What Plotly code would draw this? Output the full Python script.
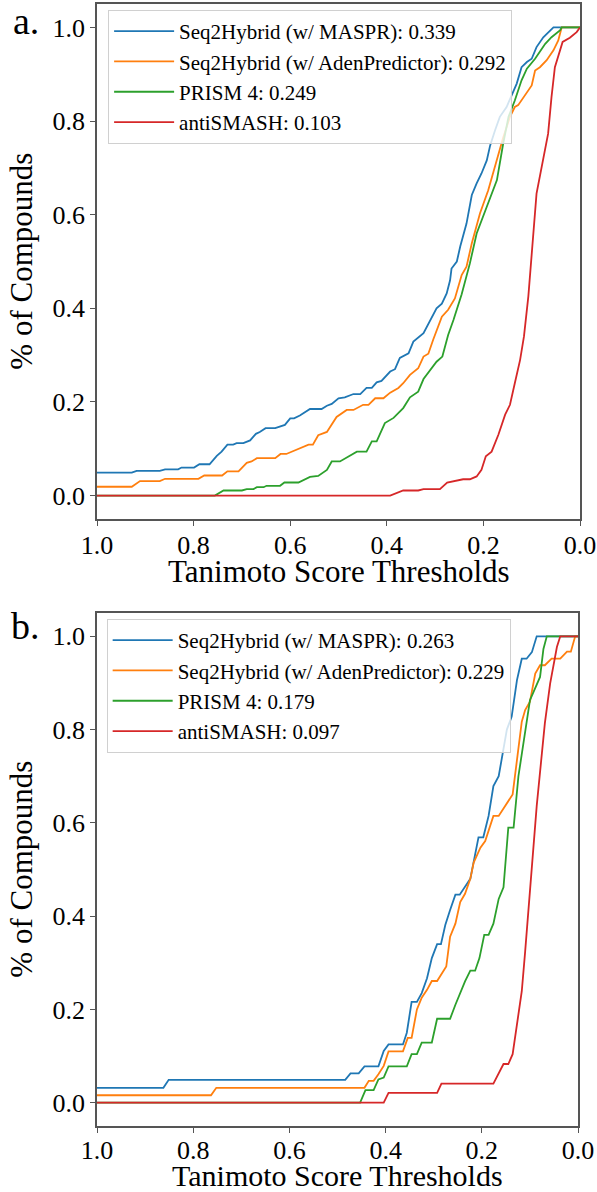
import plotly.graph_objects as go

# ---------------- Panel a data ----------------
a_blue_x = [1.0, 0.928, 0.918, 0.87, 0.859, 0.832, 0.825, 0.799, 0.788, 0.767,
            0.752, 0.742, 0.730, 0.718, 0.711, 0.697, 0.683, 0.671, 0.663, 0.651,
            0.631, 0.611, 0.600, 0.592, 0.580, 0.559, 0.535, 0.524, 0.514, 0.500,
            0.487, 0.469, 0.455, 0.442, 0.431, 0.421, 0.411, 0.393, 0.383, 0.373,
            0.355, 0.345, 0.324, 0.311, 0.297, 0.286, 0.276, 0.269, 0.266, 0.255,
            0.248, 0.235, 0.224, 0.214, 0.204, 0.193, 0.186, 0.176, 0.166, 0.152,
            0.141, 0.131, 0.121, 0.110, 0.100, 0.090, 0.076, 0.066, 0.055, 0.0]
a_blue_y = [0.049, 0.049, 0.053, 0.053, 0.056, 0.056, 0.060, 0.060, 0.067, 0.067,
            0.085, 0.094, 0.109, 0.109, 0.112, 0.112, 0.118, 0.132, 0.136, 0.144,
            0.144, 0.151, 0.165, 0.165, 0.171, 0.185, 0.185, 0.192, 0.196, 0.208,
            0.210, 0.217, 0.217, 0.230, 0.230, 0.242, 0.245, 0.265, 0.270, 0.294,
            0.304, 0.329, 0.347, 0.372, 0.400, 0.410, 0.432, 0.460, 0.485, 0.500,
            0.532, 0.581, 0.642, 0.667, 0.688, 0.716, 0.748, 0.780, 0.809, 0.830,
            0.855, 0.880, 0.915, 0.926, 0.933, 0.958, 0.979, 0.990, 1.0, 1.0]

a_orange_x = [1.0, 0.928, 0.911, 0.87, 0.859, 0.79, 0.778, 0.741, 0.730, 0.707,
              0.69, 0.68, 0.669, 0.631, 0.62, 0.608, 0.562, 0.553, 0.542, 0.524,
              0.504, 0.483, 0.469, 0.449, 0.438, 0.424, 0.407, 0.393, 0.376, 0.366,
              0.352, 0.335, 0.324, 0.314, 0.304, 0.293, 0.286, 0.273, 0.259, 0.245,
              0.235, 0.224, 0.207, 0.19, 0.172, 0.159, 0.145, 0.135, 0.128, 0.117,
              0.1, 0.093, 0.083, 0.069, 0.055, 0.045, 0.038, 0.0]
a_orange_y = [0.019, 0.019, 0.031, 0.031, 0.036, 0.036, 0.043, 0.043, 0.052, 0.052,
              0.070, 0.073, 0.080, 0.080, 0.089, 0.089, 0.109, 0.109, 0.129, 0.136,
              0.168, 0.183, 0.183, 0.194, 0.194, 0.208, 0.208, 0.220, 0.230, 0.240,
              0.258, 0.272, 0.297, 0.303, 0.333, 0.361, 0.382, 0.397, 0.421, 0.471,
              0.489, 0.539, 0.603, 0.652, 0.716, 0.765, 0.809, 0.830, 0.834, 0.851,
              0.876, 0.908, 0.915, 0.930, 0.951, 0.972, 1.0, 1.0]

a_green_x = [1.0, 0.756, 0.738, 0.700, 0.690, 0.676, 0.669, 0.655, 0.649, 0.621,
             0.612, 0.583, 0.559, 0.542, 0.524, 0.514, 0.497, 0.48, 0.462, 0.442,
             0.431, 0.421, 0.404, 0.386, 0.366, 0.352, 0.335, 0.324, 0.314, 0.297,
             0.285, 0.273, 0.262, 0.252, 0.245, 0.228, 0.214, 0.193, 0.172, 0.159,
             0.148, 0.135, 0.121, 0.11, 0.093, 0.072, 0.059, 0.041, 0.038, 0.0]
a_green_y = [0.0, 0.0, 0.011, 0.011, 0.014, 0.014, 0.018, 0.018, 0.021, 0.021,
             0.028, 0.028, 0.040, 0.042, 0.055, 0.073, 0.073, 0.084, 0.094, 0.094,
             0.116, 0.116, 0.155, 0.166, 0.187, 0.210, 0.222, 0.249, 0.262, 0.286,
             0.297, 0.343, 0.375, 0.407, 0.430, 0.496, 0.560, 0.617, 0.674, 0.752,
             0.809, 0.844, 0.887, 0.912, 0.933, 0.965, 0.979, 0.994, 1.0, 1.0]

a_red_x = [1.0, 0.393, 0.366, 0.335, 0.324, 0.29, 0.275, 0.259, 0.242, 0.228,
           0.214, 0.204, 0.195, 0.183, 0.169, 0.155, 0.145, 0.135, 0.124, 0.116,
           0.107, 0.09, 0.076, 0.066, 0.059, 0.055, 0.052, 0.036, 0.021, 0.007, 0.0]
a_red_y = [0.0, 0.0, 0.011, 0.011, 0.014, 0.014, 0.028, 0.031, 0.035, 0.035,
           0.041, 0.055, 0.084, 0.094, 0.130, 0.173, 0.194, 0.240, 0.290, 0.340,
           0.425, 0.645, 0.723, 0.773, 0.851, 0.890, 0.915, 0.969, 0.978, 0.990, 1.0]

# ---------------- Panel b data ----------------
b_blue_x = [1.0, 0.862, 0.851, 0.484, 0.473, 0.456, 0.444, 0.415, 0.404, 0.394,
            0.364, 0.356, 0.346, 0.335, 0.325, 0.314, 0.304, 0.293, 0.285, 0.276,
            0.266, 0.255, 0.246, 0.235, 0.224, 0.207, 0.197, 0.186, 0.176, 0.165,
            0.155, 0.148, 0.138, 0.127, 0.117, 0.107, 0.096, 0.086, 0.0]
b_blue_y = [0.032, 0.032, 0.049, 0.049, 0.063, 0.063, 0.078, 0.078, 0.111, 0.125,
            0.125, 0.150, 0.216, 0.216, 0.235, 0.267, 0.310, 0.340, 0.340, 0.381,
            0.413, 0.446, 0.446, 0.462, 0.480, 0.569, 0.569, 0.615, 0.679, 0.700,
            0.764, 0.800, 0.828, 0.906, 0.952, 0.952, 0.966, 1.0, 1.0]

b_orange_x = [1.0, 0.763, 0.752, 0.444, 0.435, 0.425, 0.415, 0.404, 0.394, 0.364,
              0.354, 0.346, 0.335, 0.325, 0.314, 0.304, 0.293, 0.274, 0.266, 0.255,
              0.245, 0.235, 0.224, 0.217, 0.203, 0.193, 0.176, 0.165, 0.136, 0.127,
              0.117, 0.11, 0.1, 0.089, 0.079, 0.069, 0.055, 0.037, 0.023, 0.015,
              0.006, 0.0]
b_orange_y = [0.016, 0.016, 0.032, 0.032, 0.047, 0.047, 0.061, 0.079, 0.110, 0.110,
              0.139, 0.139, 0.200, 0.225, 0.242, 0.261, 0.261, 0.292, 0.356, 0.384,
              0.430, 0.448, 0.480, 0.515, 0.547, 0.561, 0.615, 0.615, 0.661, 0.735,
              0.817, 0.842, 0.860, 0.920, 0.938, 0.938, 0.952, 0.952, 0.967, 0.967,
              1.0, 1.0]

b_green_x = [1.0, 0.453, 0.442, 0.425, 0.415, 0.404, 0.394, 0.356, 0.346, 0.335,
             0.325, 0.304, 0.293, 0.266, 0.255, 0.245, 0.235, 0.224, 0.214, 0.205,
             0.195, 0.186, 0.176, 0.165, 0.155, 0.145, 0.134, 0.124, 0.11, 0.1,
             0.079, 0.072, 0.065, 0.0]
b_green_y = [0.0, 0.0, 0.027, 0.027, 0.050, 0.054, 0.078, 0.078, 0.104, 0.104,
             0.129, 0.129, 0.180, 0.180, 0.210, 0.235, 0.260, 0.283, 0.283, 0.310,
             0.360, 0.360, 0.384, 0.437, 0.462, 0.590, 0.590, 0.700, 0.800, 0.863,
             0.913, 0.973, 1.0, 1.0]

b_red_x = [1.0, 0.404, 0.394, 0.293, 0.284, 0.176, 0.155, 0.145, 0.136, 0.127,
           0.117, 0.11, 0.101, 0.086, 0.069, 0.058, 0.044, 0.037, 0.0]
b_red_y = [0.0, 0.0, 0.021, 0.021, 0.041, 0.041, 0.083, 0.083, 0.104, 0.168,
           0.239, 0.324, 0.440, 0.636, 0.814, 0.899, 0.977, 1.0, 1.0]

names_a = ["Seq2Hybrid (w/ MASPR): 0.339", "Seq2Hybrid (w/ AdenPredictor): 0.292",
           "PRISM 4: 0.249", "antiSMASH: 0.103"]
names_b = ["Seq2Hybrid (w/ MASPR): 0.263", "Seq2Hybrid (w/ AdenPredictor): 0.229",
           "PRISM 4: 0.179", "antiSMASH: 0.097"]
colors = ["#1f77b4", "#ff7f0e", "#2ca02c", "#d62728"]

tick_vals = [0.0, 0.2, 0.4, 0.6, 0.8, 1.0]
tick_text = ["0.0", "0.2", "0.4", "0.6", "0.8", "1.0"]
x_title = "Tanimoto Score Thresholds"
y_title = "% of Compounds"
panel_labels = ["a.", "b."]

FONT = "Liberation Serif, Times New Roman, serif"

fig = go.Figure()

series_a = [(a_blue_x, a_blue_y), (a_orange_x, a_orange_y),
            (a_green_x, a_green_y), (a_red_x, a_red_y)]
series_b = [(b_blue_x, b_blue_y), (b_orange_x, b_orange_y),
            (b_green_x, b_green_y), (b_red_x, b_red_y)]

for (xs, ys), nm, c in zip(series_a, names_a, colors):
    fig.add_trace(go.Scatter(x=xs, y=ys, mode="lines", name=nm,
                             line=dict(color=c, width=1.8),
                             xaxis="x", yaxis="y", legend="legend"))
for (xs, ys), nm, c in zip(series_b, names_b, colors):
    fig.add_trace(go.Scatter(x=xs, y=ys, mode="lines", name=nm,
                             line=dict(color=c, width=1.8),
                             xaxis="x2", yaxis="y2", legend="legend2"))

axis_common = dict(showline=True, mirror=True, linecolor="#555555", linewidth=1.5,
                   ticks="outside", ticklen=5, tickwidth=1.2, tickcolor="#555555",
                   showgrid=False, zeroline=False, automargin=False,
                   tickfont=dict(family=FONT, size=26, color="black"))

xcommon = dict(axis_common, range=[1.0, 0.0], tickvals=tick_vals, ticktext=tick_text)
ycommon = dict(axis_common, range=[-0.05, 1.05], tickvals=tick_vals, ticktext=tick_text)

legend_common = dict(font=dict(family=FONT, size=21, color="black"),
                     bgcolor="rgba(255,255,255,0.8)", bordercolor="#d0d0d0",
                     borderwidth=1, xanchor="left", yanchor="top",
                     tracegroupgap=0, itemwidth=60)

title_font = dict(family=FONT, size=31, color="black")
title_font_b = dict(family=FONT, size=30, color="black")
annotations = [
    # panel labels
    dict(text=panel_labels[0], xref="paper", yref="paper", x=-0.178, y=0.985,
         xanchor="left", yanchor="middle", showarrow=False,
         font=dict(family=FONT, size=38, color="black")),
    dict(text=panel_labels[1], xref="paper", yref="paper", x=-0.182, y=0.449,
         xanchor="left", yanchor="middle", showarrow=False,
         font=dict(family=FONT, size=38, color="black")),
    # x-axis titles
    dict(text=x_title, xref="x domain", yref="paper", x=0.5, y=0.4965,
         xanchor="center", yanchor="middle", showarrow=False, font=title_font),
    dict(text=x_title, xref="x2 domain", yref="paper", x=0.5, y=-0.0385,
         xanchor="center", yanchor="middle", showarrow=False, font=title_font_b),
    # y-axis titles
    dict(text=y_title, xref="paper", yref="y domain", x=-0.157, y=0.5,
         xanchor="center", yanchor="middle", textangle=-90, showarrow=False,
         font=title_font),
    dict(text=y_title, xref="paper", yref="y2 domain", x=-0.157, y=0.5,
         xanchor="center", yanchor="middle", textangle=-90, showarrow=False,
         font=title_font),
]

fig.update_layout(
    width=597, height=1192,
    margin=dict(l=97, r=17, t=4, b=60),
    paper_bgcolor="white", plot_bgcolor="white",
    font=dict(family=FONT, color="black"),
    xaxis=dict(xcommon, domain=[0, 1], anchor="y", ticklabelstandoff=-3),
    yaxis=dict(ycommon, domain=[0.5434, 1.0], anchor="x"),
    xaxis2=dict(xcommon, domain=[0, 0.996], anchor="y2", ticklabelstandoff=-5),
    yaxis2=dict(ycommon, domain=[0.0053, 0.4601], anchor="x2"),
    legend=dict(legend_common, x=0.023, y=0.9947),
    legend2=dict(legend_common, x=0.02, y=0.4548),
    annotations=annotations,
    showlegend=True,
)

# remove the browser's default 8px body margin so the figure fills the window exactly
fig.write_html("out.html", config={"displayModeBar": False},
               post_script="document.body.style.margin='0';")
